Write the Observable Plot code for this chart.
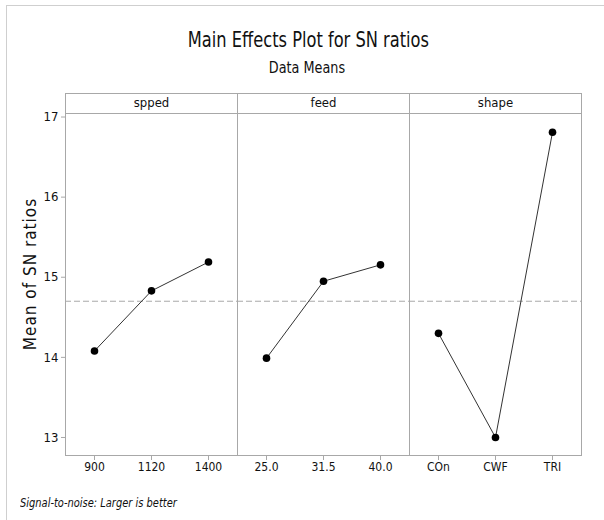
<!DOCTYPE html>
<html>
<head>
<meta charset="utf-8">
<script src="https://cdn.jsdelivr.net/npm/d3@7"></script>
<script src="https://cdn.jsdelivr.net/npm/@observablehq/plot@0.6"></script>
<style>
  body { margin:0; background:#fff; width:604px; height:520px; position:relative; overflow:hidden;
         font-family:"DejaVu Sans Condensed","Liberation Sans Narrow",sans-serif; color:#111; }
  #border { position:absolute; left:6px; top:5px; right:-2px; bottom:-2px;
            border-top:1px solid #cfcfcf; border-left:1px solid #cfcfcf; }
  #title { position:absolute; left:10px; width:594px; top:28px; text-align:center; font-size:21px; line-height:24px;
           transform:scaleX(0.86); transform-origin:307px 0; }
  #subtitle { position:absolute; left:10px; width:594px; top:59px; text-align:center; font-size:15px; line-height:18px;
           transform:scaleX(0.95); transform-origin:297px 0; }
  #chart { position:absolute; left:0; top:85px; }
  #ylabel { position:absolute; left:30px; top:274px; transform:translate(-50%,-50%) rotate(-90deg);
            white-space:nowrap; font-size:17px; letter-spacing:1px; line-height:20px; }
  #foot { position:absolute; left:20px; top:496px; font-size:12.5px; font-style:italic; line-height:14px;
          transform:scaleX(0.88); transform-origin:0 0; white-space:nowrap; }
</style>
</head>
<body>
<div id="border"></div>
<div id="title">Main Effects Plot for SN ratios</div>
<div id="subtitle">Data Means</div>
<div id="chart"></div>
<div id="ylabel">Mean of SN ratios</div>
<div id="foot">Signal-to-noise: Larger is better</div>
<script>
const factors = ["spped", "feed", "shape"];
const sppedLevels = ["900", "1120", "1400"];
const feedLevels = ["25.0", "31.5", "40.0"];
const shapeLevels = ["COn", "CWF", "TRI"];
const sppedMeans = [14.08, 14.83, 15.19];
const feedMeans = [13.99, 14.95, 15.155];
const shapeMeans = [14.30, 13.00, 16.81];
const yTicks = [13, 14, 15, 16, 17];

const levelSets = [sppedLevels, feedLevels, shapeLevels];
const meanSets = [sppedMeans, feedMeans, shapeMeans];
const rows = factors.flatMap((f, i) => levelSets[i].map((lv, j) => ({factor: f, idx: j, level: lv, value: meanSets[i][j]})));
const grand = d3.mean(rows, d => d.value);

const W = 604, H = 400, mT = 28, mB = 30;
const frameH = H - mT - mB;
const gray = "#a8a8a8";
const font = "'DejaVu Sans Condensed','Liberation Sans Narrow',sans-serif";

const chart = Plot.plot({
  width: W, height: H,
  marginLeft: 65, marginRight: 23, marginTop: mT, marginBottom: mB,
  style: {fontFamily: font, fontSize: "12px", color: "#111", background: "transparent"},
  fx: {domain: factors, padding: 0, label: null},
  x: {type: "point", domain: [0, 1, 2], padding: 0.5, label: null},
  y: {domain: [12.775, 17.044], label: null},
  marks: [
    Plot.frame({stroke: gray}),
    Plot.frame({stroke: gray, insetTop: -20, insetBottom: frameH}),
    Plot.axisFx({anchor: "top", tickSize: 0, tickPadding: 7, fontSize: 13, label: null}),
    Plot.axisY(yTicks, {tickSize: 4, tickPadding: 3, stroke: gray, fill: "#111", fontSize: 13, tickFormat: d3.format("d"), label: null}),
    Plot.axisX({tickSize: 5, tickFormat: () => "", stroke: gray, label: null}),
    Plot.text(rows, {fx: "factor", x: "idx", text: "level", frameAnchor: "bottom", dy: 15, fontSize: 12, fill: "#111"}),
    Plot.ruleY([grand], {stroke: gray, strokeDasharray: "6,3"}),
    Plot.line(rows, {fx: "factor", x: "idx", y: "value", stroke: "#333", strokeWidth: 1}),
    Plot.dot(rows, {fx: "factor", x: "idx", y: "value", r: 3.8, fill: "#000", stroke: "none"})
  ]
});
document.getElementById("chart").appendChild(chart);
</script>
</body>
</html>
